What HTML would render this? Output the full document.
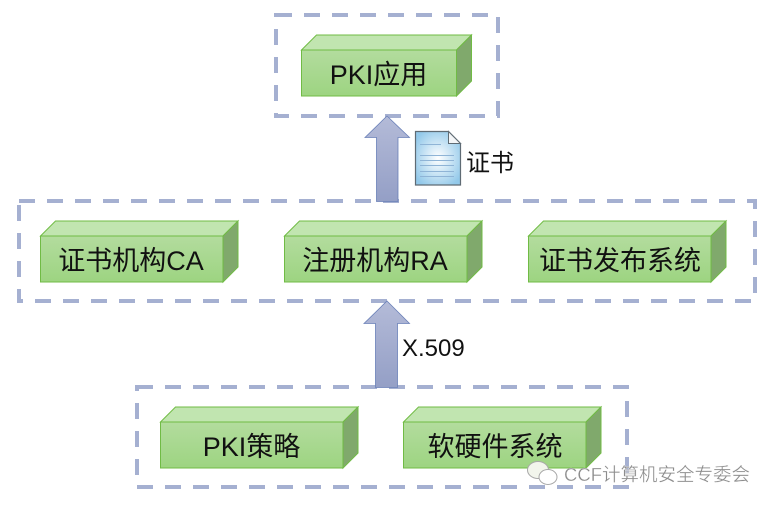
<!DOCTYPE html>
<html>
<head>
<meta charset="utf-8">
<style>
html,body{margin:0;padding:0;background:#fff;width:774px;height:508px;overflow:hidden}
svg{display:block}
text{font-family:"Liberation Sans","Noto Sans CJK SC",sans-serif;fill:#111}
</style>
</head>
<body>
<svg width="774" height="508" viewBox="0 0 774 508" xmlns="http://www.w3.org/2000/svg">
<defs>
<linearGradient id="f" x1="0" y1="0" x2="0" y2="1"><stop offset="0" stop-color="#b3dc9e"/><stop offset="1" stop-color="#9dd481"/></linearGradient>
<linearGradient id="a" x1="0" y1="0" x2="0" y2="1"><stop offset="0" stop-color="#b4bbd8"/><stop offset="1" stop-color="#949fc6"/></linearGradient>
<radialGradient id="d" cx="0.5" cy="0.5" r="0.6"><stop offset="0" stop-color="#ffffff"/><stop offset="1" stop-color="#93c9ea"/></radialGradient>
<g id="box">
<path d="M0.5 15 L15.5 0 H170.500 L155.500 15 Z" fill="#c1e5b0" stroke="#70bb45" stroke-width="1"/>
<path d="M155.500 15 L170.500 0 V46 L155.500 61 Z" fill="#80a96c" stroke="#70bb45" stroke-width="1"/>
<rect x="0.5" y="15" width="155" height="46" fill="url(#f)" stroke="#70bb45" stroke-width="1"/>
</g>
<g id="wide">
<path d="M0.5 15 L15.5 0 H198 L183 15 Z" fill="#c1e5b0" stroke="#70bb45" stroke-width="1"/>
<path d="M183 15 L198 0 V46 L183 61 Z" fill="#80a96c" stroke="#70bb45" stroke-width="1"/>
<rect x="0.5" y="15" width="182.500" height="46" fill="url(#f)" stroke="#70bb45" stroke-width="1"/>
</g>
</defs>

<g fill="none" stroke="#a5b0d1" stroke-width="4" stroke-dasharray="16 12">
<rect x="276" y="15" width="222" height="101"/>
<rect x="19" y="201" width="736" height="100"/>
<rect x="137" y="387" width="490" height="100"/>
</g>

<use href="#box" x="301" y="35"/>
<use href="#wide" x="40" y="221"/>
<use href="#wide" x="284" y="221"/>
<use href="#wide" x="528" y="221"/>
<use href="#wide" x="160" y="407"/>
<use href="#wide" x="403" y="407"/>

<path d="M387 116 L409.500 137.500 H398 V201.500 H376.500 V137.500 H365 Z" fill="url(#a)" stroke="#6a80b8" stroke-width="0.800"/>
<path d="M387 301 L409.500 323.500 H397.500 V387.500 H375.500 V323.500 H364 Z" fill="url(#a)" stroke="#6a80b8" stroke-width="0.800"/>

<path d="M415.500 131.500 H448.500 L460.500 143.500 V185 H415.500 Z" fill="url(#d)" stroke="#5f6b74" stroke-width="1.200"/>
<path d="M448.500 131.500 V143.500 H460.500 Z" fill="#f4f6f8" stroke="#5f6b74" stroke-width="1"/>
<g stroke="#8fb4d6" stroke-width="1" fill="none">
<path d="M420 144.500 H441"/><path d="M420 155.500 H454"/><path d="M420 160.500 H454"/><path d="M420 165.500 H454"/><path d="M420 171.500 H454"/><path d="M420 176.500 H454"/>
</g>

<g font-size="27" text-anchor="middle">
<text x="378.500" y="84">PKI应用</text>
<text x="131" y="270">证书机构CA</text>
<text x="375" y="270">注册机构RA</text>
<text x="620" y="270">证书发布系统</text>
<text x="251.500" y="456">PKI策略</text>
<text x="495" y="456">软硬件系统</text>
</g>
<text x="466" y="171" font-size="24">证书</text>
<text x="402" y="356" font-size="24">X.509</text>

<g fill="#fff" stroke="#a8a8a8" stroke-width="1">
<ellipse cx="538" cy="470" rx="10.500" ry="8.500" fill="#f2f5ec"/>
<ellipse cx="548" cy="477" rx="9" ry="7.500"/>
</g>
<text x="564" y="481" font-size="18.500" style="fill:#8c8c8c;stroke:#ffffff;stroke-width:0.300">CCF计算机安全专委会</text>
</svg>
</body>
</html>
